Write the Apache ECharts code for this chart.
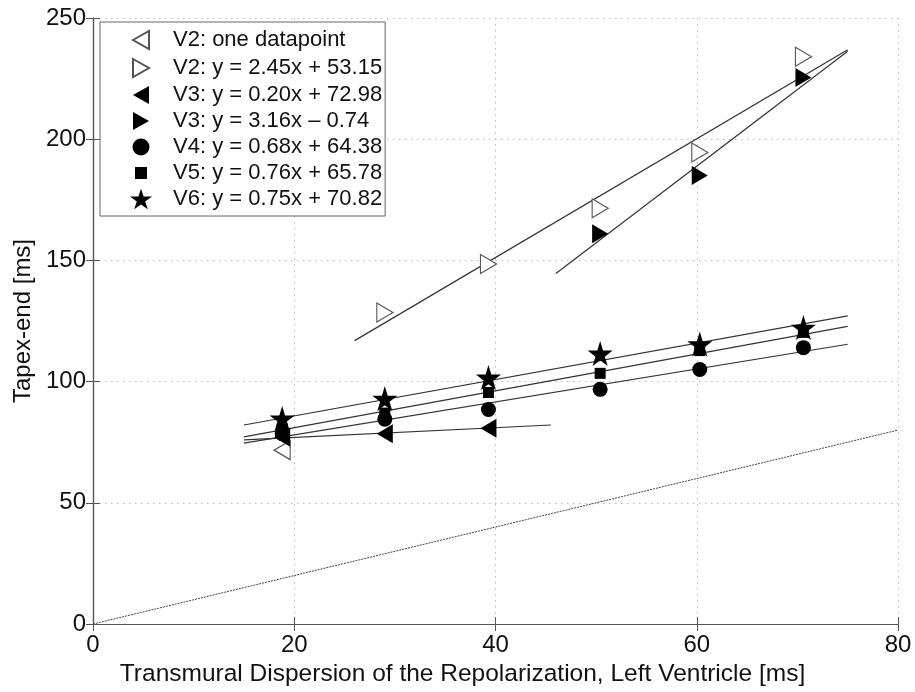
<!DOCTYPE html>
<html>
<head>
<meta charset="utf-8">
<script src="https://cdn.jsdelivr.net/npm/echarts@6/dist/echarts.min.js"></script>
<style>
  html, body { margin: 0; padding: 0; background: #fff; }
  #chart { width: 915px; height: 692px; }
</style>
</head>
<body>
<div id="chart"></div>
<script>
// x positions of the measurements (ms)
const xs = [18.8, 29.0, 39.3, 50.4, 60.3, 70.6]

const v2One = [[18.8, 71.7]]
const v2X = [29.0, 39.3, 50.4, 60.3, 70.6]
const v2Y = [128.5, 148.5, 171.5, 194.5, 234.0]
const v3LowX = [18.8, 29.0, 39.3]
const v3LowY = [77.0, 78.5, 80.8]
const v3HighX = [50.4, 60.3, 70.6]
const v3HighY = [161.0, 185.0, 225.5]
const v4Y = [78.5, 84.5, 88.5, 96.8, 105.0, 114.0]
const v5Y = [80.5, 87.0, 95.5, 103.4, 112.8, 120.3]
const v6Y = [84.8, 93.0, 101.7, 111.6, 115.5, 122.3]

// regression line end points
const fitV2 = [[26, 116.9], [75, 236.9]]
const fitV3Low = [[15, 76.0], [45.5, 82.1]]
const fitV3High = [[46, 144.6], [75, 236.3]]
const fitV4 = [[15, 74.6], [75, 115.4]]
const fitV5 = [[15, 77.2], [75, 122.8]]
const fitV6 = [[15, 82.1], [75, 127.1]]
const identity = [[0, 0], [80, 80]]

const legendNames = [
  'V2: one datapoint',
  'V2: y = 2.45x + 53.15',
  'V3: y = 0.20x + 72.98',
  'V3: y = 3.16x \u2013 0.74',
  'V4: y = 0.68x + 64.38',
  'V5: y = 0.76x + 65.78',
  'V6: y = 0.75x + 70.82'
]

const xTicks = [0, 20, 40, 60, 80]
const yTicks = [0, 50, 100, 150, 200, 250]

// marker shapes
const triLeft = 'path://M0,50 L90,0 L90,100 Z'
const triRight = 'path://M0,0 L90,50 L0,100 Z'
const star = 'path://M50,0 L61,35 L98,35 L68,57 L79,91 L50,70 L21,91 L32,57 L2,35 L39,35 Z'

// legend icons, padded inside a 22x22 box so they keep their relative size
const pad = 'M0,0 L0,0 M22,22 L22,22 '
const legTriLeft = 'path://' + pad + 'M3,11 L19,2 L19,20 Z'
const legTriRight = 'path://' + pad + 'M3,2 L19,11 L3,20 Z'
const legCircle = 'path://' + pad + 'M19.5,11 A8.5,8.5 0 1 1 2.5,11 A8.5,8.5 0 1 1 19.5,11 Z'
const legSquare = 'path://' + pad + 'M5,5 L17,5 L17,17 L5,17 Z'
const legStar = 'path://M11,0 L13.6,7.8 L22,7.8 L15.2,12.7 L17.8,20.6 L11,15.7 L4.2,20.6 L6.8,12.7 L0,7.8 L8.4,7.8 Z'
const legendIcons = [legTriLeft, legTriRight, legTriLeft, legTriRight, legCircle, legSquare, legStar]

const zip = (x, y) => x.map((v, i) => [v, y[i]])

const font = 'Liberation Sans, Arial, sans-serif'

const scatter = (name, data, symbol, size, style) => ({
  name,
  type: 'scatter',
  data,
  symbol,
  symbolSize: size,
  itemStyle: style,
  z: 5
})

const fitLine = (data, extra) => Object.assign({
  type: 'line',
  data,
  symbol: 'none',
  silent: true,
  lineStyle: { color: '#333', width: 1.2 },
  z: 3
}, extra || {})

const solid = { color: '#000', opacity: 1 }
const open = { color: '#fff', borderColor: '#555', borderWidth: 1.2, opacity: 1 }

const axisColor = '#555'
const gridLine = { lineStyle: { color: '#bbb', type: [1.5, 4.5] } }

const chart = echarts.init(document.getElementById('chart'))

chart.setOption({
  animation: false,
  backgroundColor: '#fff',
  textStyle: { fontFamily: font },
  grid: { left: 93, right: 17, top: 18, bottom: 68 },
  legend: {
    orient: 'vertical',
    left: 100,
    top: 22,
    backgroundColor: '#fff',
    borderColor: '#666',
    borderWidth: 1,
    padding: [6, 3, 6, 29],
    itemGap: 4,
    itemWidth: 22,
    itemHeight: 22,
    textStyle: { fontFamily: font, fontSize: 22, lineHeight: 22, color: '#111', padding: [0, 0, 0, 16] },
    data: legendNames.map((n, i) => ({ name: n, icon: legendIcons[i] }))
  },
  xAxis: [{
    type: 'value',
    min: 0,
    max: 80,
    interval: 20,
    name: 'Transmural Dispersion of the Repolarization, Left Ventricle [ms]',
    nameLocation: 'middle',
    nameGap: 37,
    nameTextStyle: { fontSize: 24.5, color: '#111', fontFamily: font, padding: [0, 66, 0, 0] },
    axisLine: { lineStyle: { color: axisColor, width: 1.2 } },
    axisTick: { inside: true, length: 7, lineStyle: { color: axisColor } },
    axisLabel: { fontSize: 24, color: '#111', margin: 9, fontFamily: font,
      formatter: v => xTicks.includes(v) ? String(v) : '' },
    splitLine: gridLine
  }, {
    type: 'value',
    position: 'top',
    min: 0,
    max: 80,
    interval: 20,
    axisLine: { lineStyle: { color: axisColor, width: 1.2 } },
    axisTick: { inside: true, length: 7, lineStyle: { color: axisColor } },
    axisLabel: { show: false },
    splitLine: { show: false }
  }],
  yAxis: [{
    type: 'value',
    min: 0,
    max: 250,
    interval: 50,
    name: 'Tapex-end [ms]',
    nameLocation: 'middle',
    nameGap: 54,
    nameTextStyle: { fontSize: 24, color: '#111', fontFamily: font },
    axisLine: { show: true, lineStyle: { color: axisColor, width: 1.2 } },
    axisTick: { show: true, inside: true, length: 7, lineStyle: { color: axisColor } },
    axisLabel: { fontSize: 24, color: '#111', margin: 7, fontFamily: font,
      formatter: v => yTicks.includes(v) ? String(v) : '' },
    splitLine: gridLine
  }, {
    type: 'value',
    position: 'right',
    min: 0,
    max: 250,
    interval: 50,
    axisLine: { show: true, lineStyle: { color: axisColor, width: 1.2 } },
    axisTick: { show: true, inside: true, length: 7, lineStyle: { color: axisColor } },
    axisLabel: { show: false },
    splitLine: { show: false }
  }],
  series: [
    fitLine(identity, { lineStyle: { color: '#444', width: 1, type: [2, 1] }, z: 2 }),
    fitLine(fitV2),
    fitLine(fitV3Low),
    fitLine(fitV3High),
    fitLine(fitV4),
    fitLine(fitV5),
    fitLine(fitV6),
    scatter(legendNames[0], v2One, triLeft, [16, 19], open),
    scatter(legendNames[1], zip(v2X, v2Y), triRight, [16, 19], open),
    scatter(legendNames[2], zip(v3LowX, v3LowY), triLeft, [16, 19], solid),
    scatter(legendNames[3], zip(v3HighX, v3HighY), triRight, [16, 19], solid),
    scatter(legendNames[4], zip(xs, v4Y), 'circle', 15, solid),
    scatter(legendNames[5], zip(xs, v5Y), 'rect', 11, solid),
    scatter(legendNames[6], zip(xs, v6Y), star, 25, solid)
  ]
})
</script>
</body>
</html>
